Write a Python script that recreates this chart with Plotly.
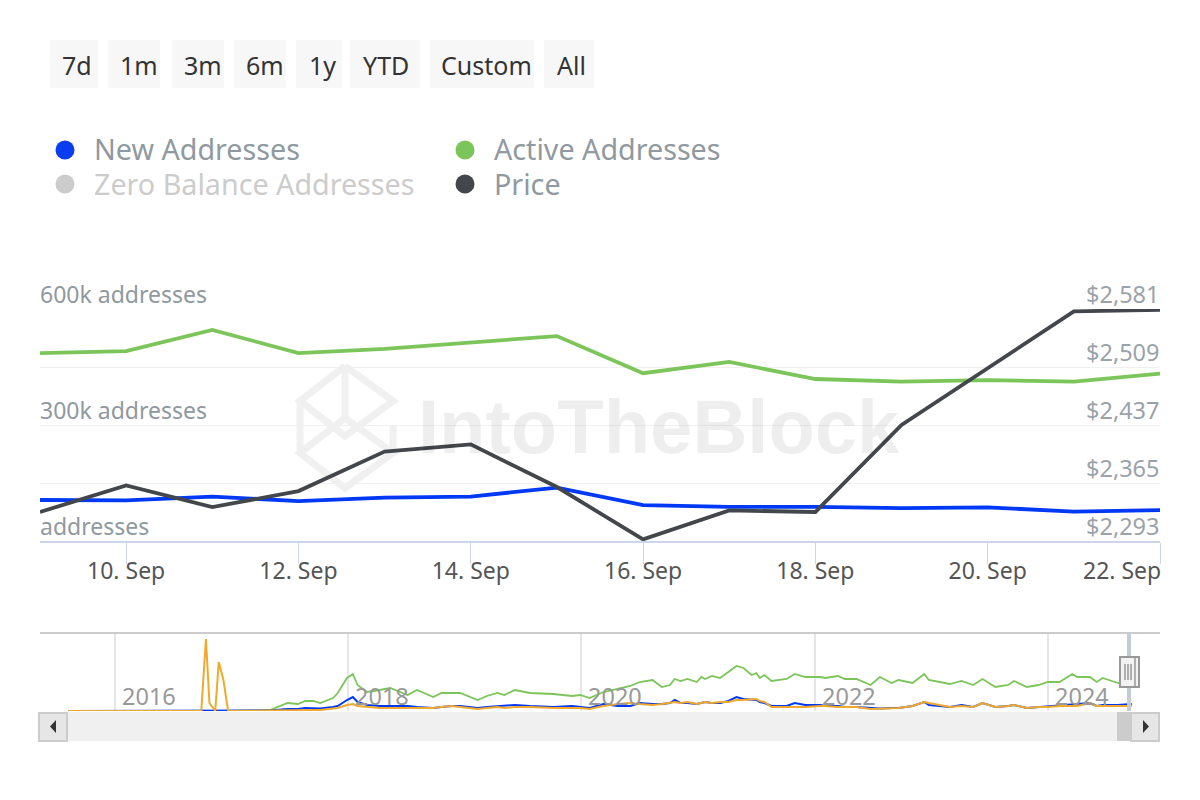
import plotly.graph_objects as go

# main chart, daily values
dates = ["2024-09-%02d" % d for d in range(9, 23)]
active_addresses = [486000, 491000, 546000, 486000, 497000, 513000, 530000, 434000, 463000, 419000, 412000, 416000, 412000, 433000]
new_addresses = [106000, 105000, 115000, 103000, 112000, 115000, 138000, 93000, 88000, 88000, 85000, 87000, 76000, 80000]
price = [2329, 2362, 2335, 2355, 2404, 2413, 2360, 2295, 2331, 2329, 2437, 2508, 2578, 2580]

x_tick_dates = ["2024-09-10", "2024-09-12", "2024-09-14", "2024-09-16", "2024-09-18", "2024-09-20", "2024-09-22"]
x_tick_labels = ["10. Sep", "12. Sep", "14. Sep", "16. Sep", "18. Sep", "20. Sep", ""]
left_ticks = [0, 300000, 600000]
left_labels = ["addresses", "300k addresses", "600k addresses"]
right_ticks = [2293, 2365, 2437, 2509, 2581]
right_labels = ["$2,293", "$2,365", "$2,437", "$2,509", "$2,581"]

# navigator series (relative height, the navigator has no scale), x in decimal years
nav_years = [2015.60, 2016.74, 2016.78, 2016.81, 2016.86, 2016.89, 2016.93, 2016.97, 2017.33,
             2017.48, 2017.57, 2017.63, 2017.70, 2017.76, 2017.87, 2017.91, 2017.99,
             2018.04, 2018.08, 2018.16, 2018.27, 2018.36, 2018.51, 2018.59, 2018.73, 2018.80, 2018.89, 2018.96,
             2019.11, 2019.19, 2019.28, 2019.34, 2019.43, 2019.56, 2019.76, 2019.92, 2019.99,
             2020.07, 2020.19, 2020.31, 2020.42, 2020.50, 2020.61, 2020.69, 2020.76, 2020.80, 2020.85, 2020.91, 2020.99,
             2021.03, 2021.06, 2021.12, 2021.19, 2021.26, 2021.33, 2021.39, 2021.46, 2021.50, 2021.53, 2021.57, 2021.63, 2021.76, 2021.83, 2021.92,
             2022.05, 2022.09, 2022.20, 2022.26, 2022.36, 2022.48, 2022.56, 2022.66, 2022.72, 2022.84, 2022.94, 2022.98,
             2023.16, 2023.26, 2023.36, 2023.44, 2023.55, 2023.66, 2023.71, 2023.82, 2023.92,
             2024.00, 2024.10, 2024.21, 2024.25, 2024.36, 2024.42, 2024.47, 2024.60, 2024.72]
nav_active = [0, 0, 0, 0, 0, 0, 0, 0, 1,
              8, 7, 10, 10, 8, 13, 18, 33,
              37, 26, 19, 21, 23, 16, 21, 14, 18, 18, 18,
              11, 15, 18, 16, 21, 18, 17, 15, 16,
              13, 19, 22, 25, 29, 31, 24, 26, 32, 30, 32, 29,
              34, 32, 35, 33, 39, 45, 43, 36, 38, 33, 36, 30, 32, 37, 34,
              34, 33, 35, 32, 32, 26, 34, 28, 31, 28, 37, 31,
              27, 30, 26, 32, 24, 26, 30, 24, 26,
              29, 29, 37, 34, 34, 29, 33, 28, 25]
nav_new = [0, 0, 0, 0, 0, 0, 0, 0, 0.5,
           2, 2, 3, 3, 2.5, 4, 5, 11,
           14, 9, 6, 5, 5, 5, 4, 3, 4, 5, 5,
           3, 4, 5, 5, 6, 5, 4, 5, 4,
           3, 7, 5, 5, 8, 7, 7, 8, 11, 8, 8, 7,
           8, 9, 8, 8, 10, 14, 12, 11, 11, 9, 8, 5, 5, 8, 6,
           6, 5, 5, 4, 4, 3, 2.5, 3, 3, 5, 9, 6,
           4, 6, 4, 8, 4, 5, 6, 3, 4,
           5, 6, 7, 7, 8, 5, 6, 6, 7]
nav_orange = [0, 0, 72, 8, 0, 49, 31, 0, 0.5,
              1, 1, 1.5, 1, 1, 2, 3, 6,
              7, 5, 4, 3, 3, 3, 3, 3, 4, 5, 4,
              2, 3, 4, 3, 4, 4, 3, 3, 3,
              2, 5, 7, 8, 7, 6, 7, 8, 9, 8, 9, 7,
              8, 9, 8, 9, 9, 11, 11, 12, 12, 10, 9, 4, 4, 4, 4,
              5, 5, 4, 4, 4, 2, 2.5, 3, 3, 5, 9, 8,
              4, 5, 4, 8, 4, 5, 6, 3, 4,
              4, 5, 5, 5, 8, 5, 5, 5, 5]
nav_ticks = [2016, 2018, 2020, 2022, 2024]
nav_labels = ["2016", "2018", "2020", "2022", "2024"]

range_buttons = ["7d", "1m", "3m", "6m", "1y", "YTD", "Custom", "All"]
button_lefts = [50, 108, 172, 234, 296, 350, 430, 544]
button_widths = [48, 52, 52, 52, 46, 70, 104, 50]
button_text_x = [77, 139, 203, 265, 322.5, 386, 486.5, 571.5]

legend_names = ["New Addresses", "Active Addresses", "Zero Balance Addresses", "Price"]
legend_colors = ["#0a3cf0", "#7cc55a", "#cccccc", "#43474b"]
legend_text_colors = ["#8f999f", "#8f999f", "#cccccc", "#8f999f"]
legend_x = [65, 465, 65, 465]
legend_y = [150, 150, 184, 184]

FONT = "Noto Sans"
# the page keeps an 8px body margin, so the figure is 8px smaller and helpers shift by it
PAGE_MARGIN = 8
WIDTH, HEIGHT = 1200 - PAGE_MARGIN, 800 - PAGE_MARGIN


def px_x(x):
    return (x - PAGE_MARGIN) / WIDTH


def px_y(y):
    return 1 - (y - PAGE_MARGIN) / HEIGHT


def rect(x0, y0, x1, y1, fill, line=None, layer="above"):
    return dict(type="rect", xref="paper", yref="paper", x0=px_x(x0), x1=px_x(x1), y0=px_y(y0), y1=px_y(y1),
                fillcolor=fill, line=dict(color=line or fill, width=2 if line else 0), layer=layer)


def poly(points, color, width=0, fill=None, closed=False, layer="above"):
    path = "M " + " L ".join("%.5f %.5f" % (px_x(x), px_y(y)) for x, y in points)
    if closed:
        path += " Z"
    return dict(type="path", xref="paper", yref="paper", path=path, fillcolor=fill,
                line=dict(color=color, width=width), layer=layer)


def label(text, x, y, size, color, xanchor="center", family=FONT):
    return dict(text=text, xref="paper", yref="paper", x=px_x(x), y=px_y(y), xanchor=xanchor, yanchor="middle",
                showarrow=False, font=dict(family=family, size=size, color=color))


fig = go.Figure()
fig.add_trace(go.Scatter(x=dates, y=active_addresses, mode="lines", line=dict(color="#7cc55a", width=3.8), xaxis="x", yaxis="y"))
fig.add_trace(go.Scatter(x=dates, y=new_addresses, mode="lines", line=dict(color="#0039f5", width=3.8), xaxis="x", yaxis="y"))
fig.add_trace(go.Scatter(x=dates, y=price, mode="lines", line=dict(color="#43474b", width=3.8), xaxis="x", yaxis="y2"))
fig.add_trace(go.Scatter(x=nav_years, y=nav_active, mode="lines", line=dict(color="#7cc55a", width=1.8), xaxis="x2", yaxis="y3"))
fig.add_trace(go.Scatter(x=nav_years, y=nav_new, mode="lines", line=dict(color="#0039f5", width=2), xaxis="x2", yaxis="y3"))
fig.add_trace(go.Scatter(x=nav_years, y=nav_orange, mode="lines", line=dict(color="#f0a92c", width=2), xaxis="x2", yaxis="y3"))

shapes = []
annotations = []

# watermark logo
logo = [[(345, 366), (393, 401), (345, 436), (300, 401), (345, 366)],
        [(345, 418), (393, 453), (345, 488), (300, 453), (345, 418)],
        [(345, 366), (345, 418)],
        [(300, 401), (300, 453)],
        [(393, 425), (393, 453)]]
for part in logo:
    shapes.append(poly(part, "#f0f0f0", width=7, layer="below"))
annotations.append(label("<b>IntoTheBlock</b>", 659, 426, 76, "rgba(0,0,0,0.065)", family="Liberation Sans"))

# range buttons
for text, left, width, text_x in zip(range_buttons, button_lefts, button_widths, button_text_x):
    shapes.append(rect(left, 40, left + width, 88, "#f7f7f7", layer="below"))
    annotations.append(label(text, text_x, 65, 25, "#333333"))

# legend
for name, color, text_color, x, y in zip(legend_names, legend_colors, legend_text_colors, legend_x, legend_y):
    shapes.append(dict(type="circle", xref="paper", yref="paper", x0=px_x(x - 9.5), x1=px_x(x + 9.5), y0=px_y(y - 9.5), y1=px_y(y + 9.5),
                       fillcolor=color, line=dict(width=0)))
    annotations.append(label(name, x + 27, y - 1, 28.7, text_color, xanchor="left"))

# y labels sit above their gridlines, inside the plot
for text, value in zip(left_labels, left_ticks):
    annotations.append(dict(text=text, xref="paper", yref="y", x=px_x(38), y=value, xanchor="left", yanchor="middle", yshift=15,
                            showarrow=False, font=dict(family=FONT, size=23, color="#8f999f")))
for text, value in zip(right_labels, right_ticks):
    annotations.append(dict(text=text, xref="paper", yref="y2", x=px_x(1162), y=value, xanchor="right", yanchor="middle", yshift=15,
                            showarrow=False, font=dict(family=FONT, size=23.5, color="#9aa3aa")))

# navigator year labels, just right of their gridlines
for text, value in zip(nav_labels, nav_ticks):
    annotations.append(dict(text=text, xref="x2", yref="paper", x=value, y=px_y(696), xanchor="left", yanchor="middle", xshift=5,
                            showarrow=False, font=dict(family=FONT, size=23.5, color="#999999")))

# last x label sits inside the plot edge
annotations.append(label("22. Sep", 1163, 570, 23, "#555555", xanchor="right"))

# navigator frame and scrollbar
shapes.append(poly([(40, 633), (1160, 633)], "#cccccc", width=2))
shapes.append(rect(38, 712, 1160, 741, "#f0f0f0"))
shapes.append(rect(1117, 712, 1131, 741, "#cccccc"))
shapes.append(rect(39, 713, 67, 741, "#e6e6e6", line="#cccccc"))
shapes.append(rect(1131, 713, 1159, 741, "#e6e6e6", line="#cccccc"))
shapes.append(poly([(56, 720), (56, 733), (50, 726.5)], "#333333", fill="#333333", closed=True))
shapes.append(poly([(1143, 720), (1143, 733), (1149, 726.5)], "#333333", fill="#333333", closed=True))
shapes.append(rect(1127, 633, 1131, 711, "#c4cbdc"))
shapes.append(rect(1120, 657, 1139, 687, "#f2f2f2", line="#999999"))
for x in (1125, 1128, 1131):
    shapes.append(poly([(x, 664), (x, 680)], "#999999", width=1.5))
shapes.append(poly([(1135, 657), (1135, 687)], "#999999", width=1.5))

fig.update_layout(
    width=WIDTH, height=HEIGHT,
    margin=dict(l=0, r=0, t=0, b=0),
    paper_bgcolor="white", plot_bgcolor="rgba(0,0,0,0)",
    showlegend=False,
    font=dict(family=FONT),
    shapes=shapes,
    annotations=annotations,
    xaxis=dict(domain=[px_x(40), px_x(1160)], anchor="y", range=["2024-09-09", "2024-09-22"],
               tickvals=x_tick_dates, ticktext=x_tick_labels, ticks="outside", ticklen=21, tickwidth=1, tickcolor="#ccd6eb",
               showline=True, linecolor="#ccd6eb", linewidth=2, showgrid=False, zeroline=False, ticklabelstandoff=-13,
               tickfont=dict(family=FONT, size=23, color="#555555")),
    yaxis=dict(domain=[px_y(541), px_y(309)], anchor="x", range=[0, 600000], tickvals=left_ticks,
               showticklabels=False, showgrid=False, zeroline=False, showline=False),
    yaxis2=dict(domain=[px_y(541), px_y(309)], anchor="x", overlaying="y", side="right", range=[2293, 2581],
                tickvals=right_ticks, showticklabels=False,
                showgrid=True, gridcolor="#f0f0f0", gridwidth=1, zeroline=False, showline=False),
    xaxis2=dict(domain=[px_x(40), px_x(1160)], anchor="y3", range=[2015.357, 2024.962], tickvals=nav_ticks,
                showticklabels=False, showgrid=True, gridcolor="#e6e6e6", gridwidth=2, zeroline=False, showline=False),
    yaxis3=dict(domain=[px_y(711), px_y(633)], anchor="x2", range=[0, 78], visible=False),
)

fig.write_html("out.html")
